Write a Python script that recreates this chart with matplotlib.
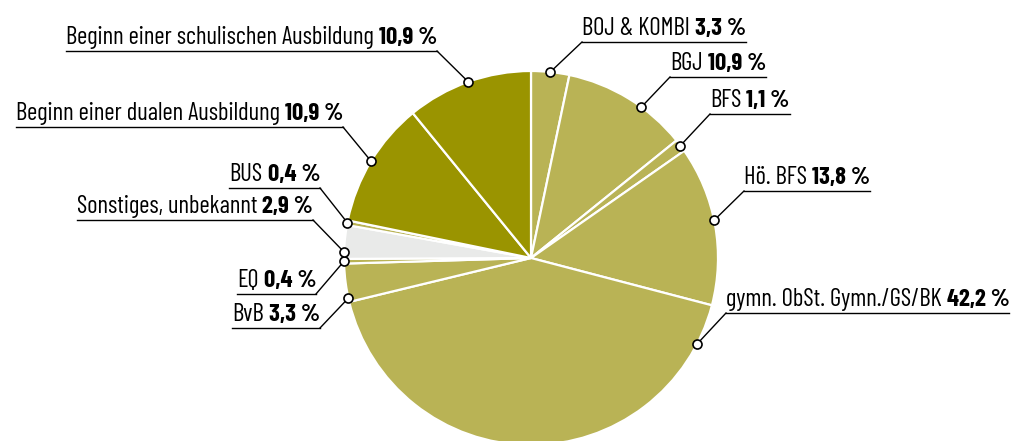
import numpy as np
import matplotlib
matplotlib.use("Agg")
import matplotlib.pyplot as plt
from matplotlib import font_manager as fm

# data (clockwise from 12 o'clock)
labels = ["BOJ & KOMBI", "BGJ", "BFS", "Hö. BFS", "gymn. ObSt. Gymn./GS/BK",
          "BvB", "EQ", "Sonstiges, unbekannt", "BUS",
          "Beginn einer dualen Ausbildung", "Beginn einer schulischen Ausbildung"]
shares = [3.3, 10.9, 1.1, 13.8, 42.2, 3.3, 0.4, 2.9, 0.4, 10.9, 10.9]
value_text = ["3,3 %", "10,9 %", "1,1 %", "13,8 %", "42,2 %",
              "3,3 %", "0,4 %", "2,9 %", "0,4 %", "10,9 %", "10,9 %"]

light = "#b9b355"
dark = "#9a9400"
grey = "#e9eae9"
colors = [light, light, light, light, light, light, light, grey, light, dark, dark]

# label layout in pixels (image coords, y down): side, line end x, line y,
# where on the wedge (0 = start edge, 1 = end edge) the dot sits
layout = [
    ("r", 582, 42, 0.5),
    ("r", 670, 77, 0.62),
    ("r", 710, 114, 0.5),
    ("r", 744, 191, 0.47),
    ("r", 726, 313, 0.084),
    ("l", 320, 328, 0.1),
    ("l", 316, 294, 0.5),
    ("l", 313, 220, 0.2),
    ("l", 320, 188, 0.5),
    ("l", 343, 127, 0.5),
    ("l", 437, 51, 0.5),
]

W, H = 1023, 441
cx, cy, R = 531, H - 258, 187

have = {f.name for f in fm.fontManager.ttflist}
if "Barlow Condensed" in have:
    plt.rcParams["font.family"] = ["Barlow Condensed", "DejaVu Sans"]
    fs = 17.8
else:
    plt.rcParams["font.family"] = ["Liberation Sans Narrow", "DejaVu Sans"]
    fs = 12

fig = plt.figure(figsize=(W / 100, H / 100), dpi=100)
ax = fig.add_axes([0, 0, 1, 1])

wedges, _ = ax.pie(shares, colors=colors, startangle=90, counterclock=False,
                   center=(cx, cy), radius=R, normalize=True,
                   wedgeprops=dict(edgecolor="white", linewidth=1.6))
ax.set_xlim(0, W)
ax.set_ylim(0, H)
ax.set_aspect("equal")
ax.axis("off")

texts = []
for w, lab, val, (side, lx, ly, frac) in zip(wedges, labels, value_text, layout):
    # clockwise pie, so the start edge of each wedge is theta2
    ang = np.deg2rad(w.theta2 - frac * (w.theta2 - w.theta1))
    px, py = cx + R * np.cos(ang), cy + R * np.sin(ang)
    y = H - ly
    ax.plot([px, lx], [py, y], color="black", lw=1.0, zorder=3)
    ax.plot(px, py, "o", ms=6.5, mfc="white", mec="black", mew=1.2, zorder=4)
    ha = "left" if side == "r" else "right"
    t = ax.text(lx, y + 7, lab, fontsize=fs, ha=ha, va="baseline")
    texts.append((t, val, side, lx, y))

fig.canvas.draw()
r = fig.canvas.get_renderer()
for t, val, side, lx, y in texts:
    bb = t.get_window_extent(r)
    if side == "r":
        v = ax.text(bb.x1 + 5, y + 7, val, fontsize=fs, fontweight="bold",
                    ha="left", va="baseline")
        vb = v.get_window_extent(r)
        ax.plot([lx, vb.x1], [y, y], color="black", lw=1.0)
    else:
        v = ax.text(lx, y + 7, val, fontsize=fs, fontweight="bold",
                    ha="right", va="baseline")
        vb = v.get_window_extent(r)
        t.set_x(vb.x0 - 5)
        bb = t.get_window_extent(r)
        ax.plot([bb.x0, lx], [y, y], color="black", lw=1.0)

fig.savefig("out.png", dpi=100, facecolor="white")
